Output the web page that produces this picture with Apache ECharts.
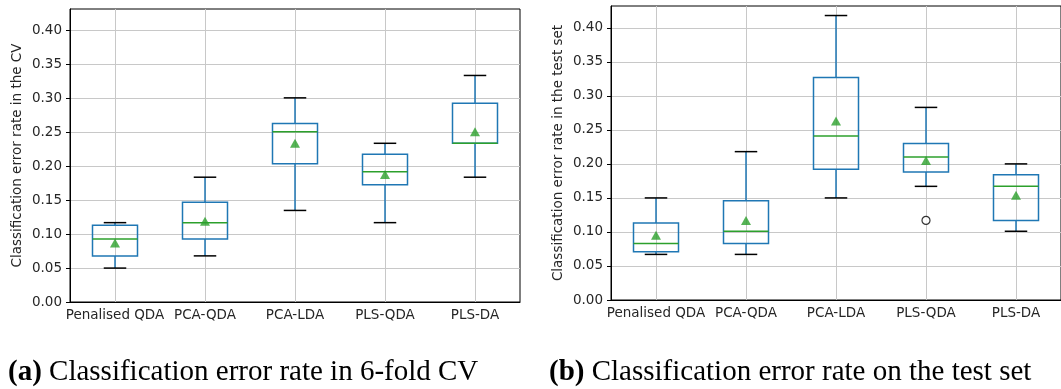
<!DOCTYPE html>
<html>
<head>
<meta charset="utf-8" />
<title>Classification error rate</title>
<script src="https://cdn.jsdelivr.net/npm/echarts@6/dist/echarts.min.js"></script>
<style>
  html, body { margin: 0; padding: 0; background: #fff; }
  #main { width: 1061px; height: 389px; }
</style>
</head>
<body>
<div id="main"></div>
<script type="text/javascript">
    // categories of the two box plots
    const categories = ['Penalised QDA', 'PCA-QDA', 'PCA-LDA', 'PLS-QDA', 'PLS-DA'];
    const yTicks = [0, 0.05, 0.10, 0.15, 0.20, 0.25, 0.30, 0.35, 0.40];

    // [low whisker, Q1, median, Q3, high whisker]
    const cvBoxes = [
        [0.050, 0.068, 0.093, 0.113, 0.117],
        [0.068, 0.093, 0.117, 0.147, 0.184],
        [0.135, 0.204, 0.251, 0.263, 0.301],
        [0.117, 0.173, 0.192, 0.218, 0.234],
        [0.184, 0.234, 0.234, 0.293, 0.334]
    ];
    const cvMeans = [0.087, 0.119, 0.234, 0.188, 0.251];

    const testBoxes = [
        [0.067, 0.071, 0.083, 0.113, 0.150],
        [0.067, 0.083, 0.101, 0.146, 0.218],
        [0.150, 0.192, 0.241, 0.327, 0.418],
        [0.167, 0.188, 0.210, 0.230, 0.283],
        [0.101, 0.117, 0.167, 0.184, 0.200]
    ];
    const testMeans = [0.095, 0.117, 0.263, 0.205, 0.154];
    // [category index, value]
    const testOutliers = [[3, 0.117]];

    const BLUE = '#1f77b4';
    const GREEN = '#2ca02c';
    const LABEL = '#262626';
    const FONT = 'DejaVu Sans';

    // box + whiskers + caps + median, like matplotlib
    function renderBox(params, api) {
        const i = api.value(0);
        const band = api.size([1, 0])[0];
        const half = band * 0.25;
        const cap = band * 0.125;
        const lo = api.coord([i, api.value(1)]);
        const q1 = api.coord([i, api.value(2)]);
        const md = api.coord([i, api.value(3)]);
        const q3 = api.coord([i, api.value(4)]);
        const hi = api.coord([i, api.value(5)]);
        const x = lo[0];
        const blue = { stroke: BLUE, lineWidth: 1.5, fill: null };
        const black = { stroke: '#000', lineWidth: 1.5 };
        return {
            type: 'group',
            children: [
                { type: 'line', shape: { x1: x, y1: q1[1], x2: x, y2: lo[1] }, style: blue },
                { type: 'line', shape: { x1: x, y1: q3[1], x2: x, y2: hi[1] }, style: blue },
                { type: 'rect', shape: { x: x - half, y: q3[1], width: half * 2, height: q1[1] - q3[1] }, style: blue },
                { type: 'line', shape: { x1: x - cap, y1: lo[1], x2: x + cap, y2: lo[1] }, style: black },
                { type: 'line', shape: { x1: x - cap, y1: hi[1], x2: x + cap, y2: hi[1] }, style: black },
                { type: 'line', shape: { x1: x - half, y1: md[1], x2: x + half, y2: md[1] }, style: { stroke: GREEN, lineWidth: 1.5 } }
            ]
        };
    }

    function boxData(boxes) {
        return boxes.map(function (b, i) { return [i].concat(b); });
    }

    function xAxisFor(idx) {
        return {
            type: 'category',
            gridIndex: idx,
            data: categories,
            boundaryGap: true,
            axisLine: { lineStyle: { color: '#000', width: 1 } },
            axisTick: { alignWithLabel: true, length: 4, lineStyle: { color: '#000' } },
            axisLabel: { color: LABEL, fontFamily: FONT, fontSize: 13.5, margin: 6, interval: 0 },
            splitLine: { show: true, alignWithLabel: true, lineStyle: { color: '#c8c8c8', width: 1 } }
        };
    }

    function yAxisFor(idx, name) {
        return {
            type: 'value',
            gridIndex: idx,
            min: 0,
            max: 0.432,
            interval: 0.05,
            name: name,
            nameLocation: 'middle',
            nameGap: 46,
            nameTextStyle: { color: LABEL, fontFamily: FONT, fontSize: 13.5 },
            axisLine: { show: true, lineStyle: { color: '#000', width: 1 } },
            axisTick: { show: true, length: 4, customValues: yTicks, lineStyle: { color: '#000' } },
            axisLabel: {
                color: LABEL, fontFamily: FONT, fontSize: 13.5, margin: 8,
                customValues: yTicks,
                formatter: function (v) { return v.toFixed(2); }
            },
            splitLine: { show: true, lineStyle: { color: '#c8c8c8', width: 1 } }
        };
    }

    const captionStyle = {
        fontFamily: 'Liberation Serif',
        fontSize: 29,
        fontWeight: 'normal',
        color: '#000',
        rich: {
            b: { fontFamily: 'Liberation Serif', fontSize: 29, fontWeight: 'bold', color: '#000' }
        }
    };

    const myChart = echarts.init(document.getElementById('main'));
    const option = {
        backgroundColor: '#fff',
        animation: false,
        title: [
            { text: '{b|(a)} Classification error rate in 6-fold CV', left: 3, top: 353, textStyle: captionStyle },
            { text: '{b|(b)} Classification error rate on the test set', left: 544, top: 353, textStyle: captionStyle }
        ],
        grid: [
            { left: 70, top: 9, width: 450, height: 293, show: true, borderColor: '#000', borderWidth: 1 },
            { left: 611, top: 6, width: 452, height: 294, show: true, borderColor: '#000', borderWidth: 1 }
        ],
        xAxis: [xAxisFor(0), xAxisFor(1)],
        yAxis: [
            yAxisFor(0, 'Classification error rate in the CV'),
            yAxisFor(1, 'Classification error rate in the test set')
        ],
        series: [
            { type: 'custom', xAxisIndex: 0, yAxisIndex: 0, renderItem: renderBox, data: boxData(cvBoxes), z: 3 },
            {
                type: 'scatter', xAxisIndex: 0, yAxisIndex: 0, symbol: 'triangle', symbolSize: [10, 9],
                itemStyle: { color: GREEN }, data: cvMeans.map(function (v, i) { return [i, v]; }), z: 5
            },
            { type: 'custom', xAxisIndex: 1, yAxisIndex: 1, renderItem: renderBox, data: boxData(testBoxes), z: 3 },
            {
                type: 'scatter', xAxisIndex: 1, yAxisIndex: 1, symbol: 'triangle', symbolSize: [10, 9],
                itemStyle: { color: GREEN }, data: testMeans.map(function (v, i) { return [i, v]; }), z: 5
            },
            {
                type: 'scatter', xAxisIndex: 1, yAxisIndex: 1, symbol: 'circle', symbolSize: 8,
                itemStyle: { color: '#fff', borderColor: '#000', borderWidth: 1.2 }, data: testOutliers, z: 5
            }
        ]
    };
    myChart.setOption(option);
</script>
</body>
</html>
